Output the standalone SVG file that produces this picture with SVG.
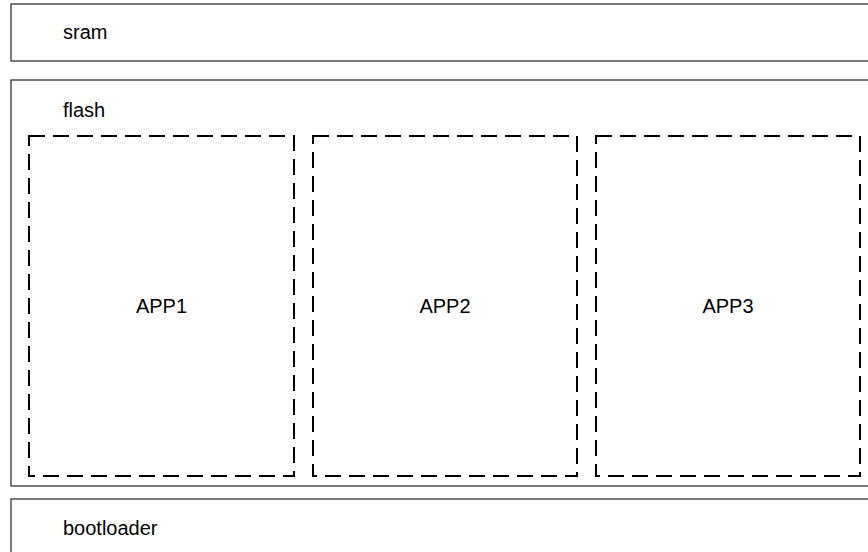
<svg xmlns="http://www.w3.org/2000/svg" width="868" height="552" viewBox="0 0 868 552">
<style>
.outer{fill:#ffffff;stroke:#333333;stroke-width:1.3}
.app{fill:none;stroke:#000000;stroke-width:2;stroke-dasharray:16 8}
text{font-family:"Liberation Sans",Arial,sans-serif;font-size:20px;fill:#000000}
.c{text-anchor:middle}
</style>
<rect width="868" height="552" fill="#ffffff"/>
<g id="sram">
<rect class="outer" x="11" y="4" width="870" height="57"/>
<text x="63" y="39">sram</text>
</g>
<g id="flash">
<rect class="outer" x="11" y="80" width="870" height="406"/>
<text x="63" y="117">flash</text>
</g>
<g id="app1">
<rect class="app" x="29" y="136" width="265" height="340"/>
<text class="c" x="161.5" y="313">APP1</text>
</g>
<g id="app2">
<rect class="app" x="313" y="136" width="264" height="340"/>
<text class="c" x="445" y="313">APP2</text>
</g>
<g id="app3">
<rect class="app" x="596" y="136" width="264" height="340"/>
<text class="c" x="728" y="313">APP3</text>
</g>
<g id="bootloader">
<rect class="outer" x="11" y="499" width="870" height="70"/>
<text x="63" y="535">bootloader</text>
</g>
<g id="connectors"></g>
</svg>
